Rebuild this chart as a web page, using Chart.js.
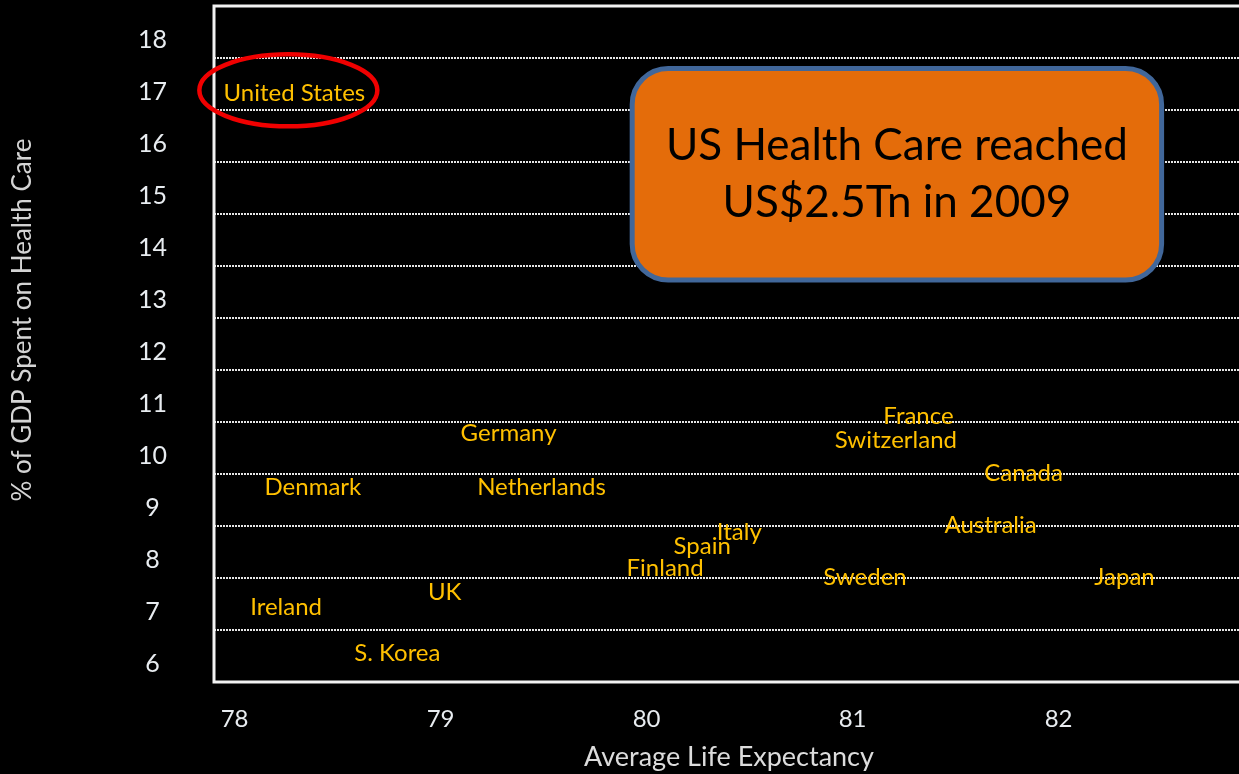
<!DOCTYPE html>
<html>
<head>
<meta charset="utf-8">
<script src="https://cdn.jsdelivr.net/npm/chart.js@4"></script>
<style>
  html, body { margin:0; padding:0; background:#000; overflow:hidden; }
  canvas { display:block; }
</style>
</head>
<body>
<canvas id="chart" width="1260" height="774"></canvas>
<script>
// health spend (% of GDP) against life expectancy, one point per country
const countries = ['United States', 'Germany', 'Denmark', 'Netherlands', 'UK', 'Ireland', 'S. Korea',
                   'France', 'Switzerland', 'Canada', 'Australia', 'Italy', 'Spain', 'Finland', 'Sweden', 'Japan'];
const lifeExpectancy = [78.29, 79.33, 78.38, 79.49, 79.02, 78.25, 78.79,
                        81.32, 81.21, 81.83, 81.67, 80.45, 80.27, 80.09, 81.06, 82.32];
const gdpShare = [17.32, 10.78, 9.74, 9.74, 7.72, 7.44, 6.55,
                  11.11, 10.64, 10.01, 9.01, 8.88, 8.61, 8.18, 8.01, 8.01];
const xTickLabels = [78, 79, 80, 81, 82];
const yTickLabels = [6, 7, 8, 9, 10, 11, 12, 13, 14, 15, 16, 17, 18];
const calloutLines = ['US Health Care reached', 'US$2.5Tn in 2009'];
const yTitle = '% of GDP Spent on Health Care';

const FONT = 'Lato, "Open Sans", sans-serif';

// white frame round the plot
const frame = {
  id: 'frame',
  beforeDatasetsDraw(chart) {
    const {ctx, chartArea: a} = chart;
    ctx.save();
    ctx.strokeStyle = '#f2f2f2';
    ctx.lineWidth = 3;
    ctx.strokeRect(a.left, a.top, a.right - a.left, a.bottom - a.top);
    ctx.restore();
  }
};

// country names sit on the points instead of markers
const pointNames = {
  id: 'pointNames',
  afterDatasetsDraw(chart) {
    const {ctx} = chart;
    const meta = chart.getDatasetMeta(0);
    ctx.save();
    ctx.font = '24px ' + FONT;
    ctx.fillStyle = '#FFC000';
    ctx.textAlign = 'center';
    ctx.textBaseline = 'middle';
    meta.data.forEach((el, i) => ctx.fillText(countries[i], el.x, el.y));
    ctx.restore();
  }
};

// y title sits a little above the middle of the axis
const sideTitle = {
  id: 'sideTitle',
  afterDraw(chart) {
    const {ctx, chartArea: a} = chart;
    ctx.save();
    ctx.translate(22.5, (a.top + a.bottom) / 2 - 24);
    ctx.rotate(-Math.PI / 2);
    ctx.font = '26px ' + FONT;
    ctx.fillStyle = '#d4d4d4';
    ctx.textAlign = 'center';
    ctx.textBaseline = 'middle';
    ctx.fillText(yTitle, 0, 0);
    ctx.restore();
  }
};

// orange call-out box and the red ring round the US
const callout = {
  id: 'callout',
  afterDraw(chart) {
    const {ctx, scales: {x, y}} = chart;
    ctx.save();
    const l = x.getPixelForValue(79.93), r = x.getPixelForValue(82.5);
    const t = y.getPixelForValue(17.8), b = y.getPixelForValue(13.73);
    ctx.beginPath();
    ctx.roundRect(l, t, r - l, b - t, 36);
    ctx.fillStyle = '#E46C0A';
    ctx.fill();
    ctx.lineWidth = 5;
    ctx.strokeStyle = '#41679A';
    ctx.stroke();
    ctx.fillStyle = '#000';
    ctx.font = '44px ' + FONT;
    ctx.textAlign = 'center';
    ctx.textBaseline = 'middle';
    const cx = (l + r) / 2, cy = (t + b) / 2;
    ctx.fillText(calloutLines[0], cx, cy - 28);
    ctx.fillText(calloutLines[1], cx, cy + 29);

    const us = chart.getDatasetMeta(0).data[0];
    ctx.beginPath();
    ctx.ellipse(us.x - 6, us.y - 3, 89, 36, 0, 0, Math.PI * 2);
    ctx.lineWidth = 4.5;
    ctx.strokeStyle = '#F00000';
    ctx.stroke();
    ctx.restore();
  }
};

new Chart(document.getElementById('chart'), {
  type: 'scatter',
  data: {
    datasets: [{
      data: lifeExpectancy.map((v, i) => ({x: v, y: gdpShare[i]})),
      pointRadius: 0,
      pointHoverRadius: 0
    }]
  },
  options: {
    responsive: false,
    animation: false,
    events: [],
    layout: {padding: {left: 0, top: 6, right: 16, bottom: 0}},
    plugins: {legend: {display: false}, tooltip: {enabled: false}},
    scales: {
      x: {
        type: 'linear', min: 77.9, max: 82.9,
        afterBuildTicks: s => { s.ticks = xTickLabels.map(v => ({value: v})); },
        afterFit: s => { s.height = 92; s.paddingLeft = 0; s.paddingRight = 0; },
        border: {display: false},
        grid: {display: false},
        ticks: {padding: 15, color: '#e8ecf0', font: {family: FONT, size: 24}},
        title: {display: true, text: 'Average Life Expectancy', color: '#dcdcdc',
                font: {family: FONT, size: 27}, padding: {top: 0, bottom: 1}}
      },
      y: {
        type: 'linear', min: 6, max: 19,
        afterBuildTicks: s => { s.ticks = yTickLabels.map(v => ({value: v})); },
        afterFit: s => { s.width = 214; s.paddingTop = 0; s.paddingBottom = 0; },
        border: {display: false, dash: [2, 1]},
        grid: {color: 'rgba(255,255,255,0.9)', lineWidth: 2, drawTicks: false},
        ticks: {padding: 47, crossAlign: 'center', labelOffset: -18,
                color: '#e8ecf0', font: {family: FONT, size: 25}}
      }
    }
  },
  plugins: [frame, pointNames, sideTitle, callout]
});
</script>
</body>
</html>
